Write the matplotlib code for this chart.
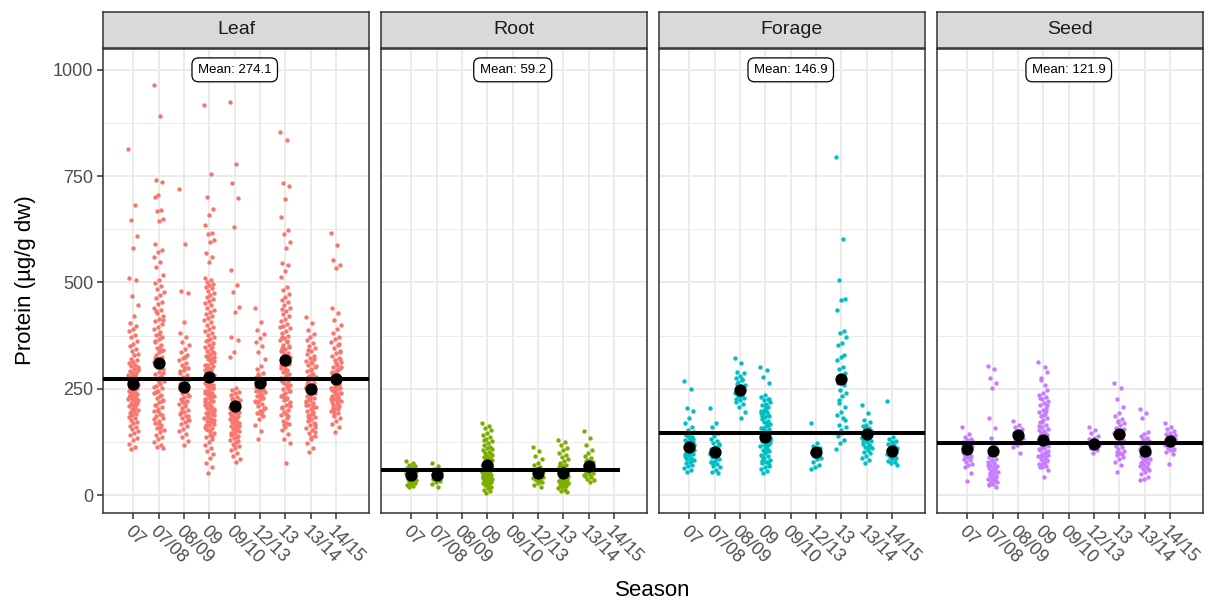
import matplotlib.pyplot as plt

plt.rcParams['font.family'] = ['Liberation Sans', 'DejaVu Sans']

seasons = ['07', '07/08', '08/09', '09', '09/10', '12/13', '13', '13/14', '14/15']

# ---- Leaf (ug/g dw) ----
leaf_07 = [815, 682, 647, 609, 581, 510, 505, 468, 446, 421, 404, 398, 391, 386, 377, 371, 363, 356,
           351, 344, 339, 332, 329, 321, 318, 313, 311, 305, 303, 297, 296, 291, 288, 287, 282, 281,
           276, 274, 272, 267, 266, 261, 259, 257, 252, 251, 247, 245, 243, 239, 238, 233, 232, 228,
           226, 223, 221, 217, 216, 212, 209, 207, 203, 201, 198, 194, 191, 188, 184, 181, 177, 172,
           169, 163, 161, 156, 151, 146, 142, 135, 129, 121, 113, 108, 301, 284, 269, 256, 241, 226,
           211, 196, 262, 246, 231, 214, 279, 294, 249, 236]
leaf_0708 = [964, 892, 740, 736, 706, 702, 671, 669, 649, 645, 591, 576, 571, 560, 547, 537, 518, 505,
             498, 492, 485, 478, 470, 463, 455, 449, 441, 436, 428, 421, 415, 409, 402, 396, 390, 384,
             377, 371, 366, 359, 353, 347, 342, 336, 330, 325, 318, 313, 307, 301, 296, 290, 285, 279,
             273, 268, 262, 257, 251, 246, 240, 235, 229, 224, 218, 213, 208, 202, 197, 191, 186, 181,
             175, 170, 164, 159, 153, 148, 142, 137, 131, 126, 119, 113, 110, 345, 322, 298, 276, 254,
             232, 211, 188, 167, 362, 338, 311, 287, 265, 243, 222, 199, 178, 157, 434, 412, 380, 305]
leaf_0809 = [720, 591, 480, 476, 408, 381, 372, 361, 352, 344, 337, 330, 323, 317, 311, 305, 299, 294,
             288, 283, 278, 273, 268, 263, 259, 254, 249, 245, 240, 236, 231, 227, 222, 218, 214, 209,
             205, 200, 196, 191, 187, 182, 177, 172, 167, 162, 156, 150, 143, 136, 128, 118, 291, 271,
             252, 233, 213, 195, 176, 302, 262, 243, 224, 185, 325]
leaf_09 = [918, 755, 702, 673, 659, 635, 616, 614, 600, 595, 570, 561, 549, 510, 505, 500, 497, 494,
           490, 486, 481, 476, 471, 466, 461, 456, 451, 446, 441, 436, 431, 426, 421, 416, 411, 406,
           401, 396, 391, 386, 381, 376, 372, 367, 362, 358, 353, 349, 344, 340, 336, 331, 327, 323,
           319, 315, 311, 307, 303, 299, 295, 291, 287, 283, 279, 275, 271, 267, 263, 259, 256, 252,
           248, 244, 240, 236, 233, 229, 225, 221, 217, 213, 210, 206, 202, 198, 194, 190, 186, 182,
           178, 174, 170, 166, 161, 157, 152, 147, 142, 137, 131, 125, 118, 111, 103, 96, 87, 76, 67,
           52, 334, 317, 298, 281, 262, 246, 231, 214, 197, 181, 165, 349, 328, 305, 286, 269, 251,
           237, 219, 201, 184, 168, 150, 289, 274, 255, 239, 222, 205, 188, 172, 156, 138, 364, 325,
           296, 276, 258, 242, 227, 208, 192, 176]
leaf_0910 = [925, 779, 734, 699, 631, 530, 494, 478, 442, 431, 373, 365, 337, 325, 252, 247, 243, 239,
             235, 231, 227, 223, 219, 216, 212, 209, 205, 202, 199, 195, 192, 189, 185, 182, 179, 176,
             172, 169, 166, 162, 159, 155, 151, 147, 143, 139, 135, 130, 126, 121, 116, 111, 106, 100,
             93, 86, 79, 225, 214, 203, 193, 183, 173, 163, 153, 141, 128, 118, 208, 196, 187, 170,
             157, 145, 137]
leaf_1213 = [440, 408, 388, 380, 370, 361, 350, 336, 321, 303, 296, 288, 281, 276, 271, 266, 262, 258,
             254, 250, 246, 242, 238, 234, 229, 225, 220, 215, 210, 205, 199, 193, 186, 178, 165, 150,
             132, 268, 256, 244, 232, 219, 206, 191, 278, 247, 236, 222, 198, 284]
leaf_13 = [854, 835, 734, 727, 697, 655, 624, 614, 596, 581, 546, 541, 528, 514, 490, 482, 474, 467,
           460, 453, 446, 440, 433, 427, 421, 415, 409, 403, 397, 392, 386, 381, 375, 370, 365, 359,
           354, 349, 344, 339, 334, 329, 324, 319, 314, 309, 304, 299, 294, 289, 284, 279, 274, 269,
           264, 259, 254, 249, 244, 239, 234, 229, 224, 218, 213, 207, 201, 195, 189, 182, 175, 168,
           160, 152, 143, 133, 122, 75, 372, 351, 328, 306, 286, 265, 246, 226, 205, 186, 164, 395,
           362, 337, 316, 292, 271, 252, 231, 210, 191, 345, 322, 297, 276, 258, 236, 215, 170, 438]
leaf_1314 = [420, 404, 388, 379, 371, 364, 357, 351, 345, 339, 333, 327, 322, 316, 311, 306, 301, 296,
             291, 286, 281, 277, 272, 268, 263, 259, 254, 250, 246, 241, 237, 233, 228, 224, 220, 215,
             211, 207, 202, 198, 193, 189, 184, 179, 174, 169, 164, 158, 152, 146, 139, 131, 122, 110,
             102, 304, 285, 266, 247, 231, 212, 195, 177, 160, 294, 275, 256, 238, 221, 204, 186, 168,
             314, 262, 243, 226, 208, 191, 342, 319, 279, 252, 217, 182, 149, 136]
leaf_1415 = [617, 587, 553, 541, 535, 440, 428, 412, 400, 390, 381, 373, 366, 359, 352, 346, 340, 334,
             328, 322, 317, 312, 307, 302, 297, 292, 288, 283, 279, 274, 270, 266, 261, 257, 253, 249,
             245, 241, 237, 233, 229, 225, 221, 217, 213, 209, 204, 199, 194, 188, 182, 175, 167, 160,
             149, 301, 285, 268, 251, 236, 219, 203, 186, 320, 294, 277, 260, 243, 227, 211, 196, 336,
             310, 289, 272, 255, 239, 223, 206, 355, 263, 247, 231]

# ---- Root ----
root_07 = [80, 76, 72, 69, 66, 63, 60, 58, 56, 54, 52, 50, 48, 47, 45, 44, 42, 41, 39, 38, 36, 35, 33,
           31, 29, 27, 25, 22, 20, 57, 49, 43, 37, 62, 53]
root_0708 = [75, 68, 62, 58, 54, 50, 47, 45, 42, 40, 37, 34, 30, 26, 19, 44, 52]
root_09 = [169, 163, 158, 152, 147, 142, 137, 132, 127, 122, 118, 114, 110, 106, 102, 99, 96, 93, 90,
           87, 84, 82, 79, 77, 74, 72, 70, 68, 66, 64, 62, 60, 58, 56, 54, 52, 50, 48, 46, 44, 42, 40,
           38, 36, 34, 32, 30, 28, 26, 23, 20, 17, 13, 9, 5, 95, 85, 75, 65, 55, 45, 35, 25, 108, 81,
           71, 61, 51, 41, 31, 89, 67, 47, 129, 57, 39]
root_1213 = [114, 104, 92, 84, 76, 70, 65, 61, 57, 53, 50, 47, 44, 41, 38, 35, 32, 28, 24, 20, 55, 43, 36]
root_13 = [129, 125, 118, 112, 106, 100, 94, 89, 84, 80, 76, 72, 68, 65, 62, 59, 56, 53, 50, 48, 46,
           44, 42, 40, 38, 36, 34, 32, 30, 28, 26, 24, 22, 19, 16, 13, 10, 7, 60, 52, 45, 37, 29, 21,
           70, 57, 41, 33, 25, 49]
root_1314 = [150, 134, 118, 106, 98, 92, 87, 82, 78, 74, 70, 67, 64, 61, 58, 55, 52, 49, 46, 43, 39,
             35, 31, 80, 66, 56, 47, 72]

# ---- Forage ----
forage_07 = [268, 250, 204, 199, 181, 169, 160, 153, 149, 145, 141, 137, 134, 130, 127, 124, 121, 118,
             115, 112, 109, 106, 103, 100, 97, 94, 91, 88, 85, 82, 79, 76, 72, 68, 64, 60, 55, 126,
             110, 96, 83, 138, 119, 101, 87, 132, 113]
forage_0708 = [205, 169, 160, 145, 139, 133, 127, 122, 117, 113, 109, 105, 101, 97, 93, 89, 85, 81, 77,
               73, 69, 65, 60, 55, 51, 111, 99, 87, 75, 120, 95, 79]
forage_0809 = [322, 310, 290, 287, 281, 275, 270, 265, 260, 256, 252, 248, 244, 240, 236, 232, 228, 224,
               220, 215, 208, 196, 181, 262, 246, 234, 226, 272]
forage_09 = [302, 295, 278, 263, 235, 231, 227, 223, 219, 215, 211, 207, 203, 199, 195, 191, 187, 183,
             179, 175, 171, 167, 163, 159, 155, 151, 147, 143, 139, 135, 131, 127, 123, 119, 115, 111,
             107, 103, 99, 95, 91, 87, 83, 79, 75, 71, 67, 62, 57, 51, 225, 205, 185, 165, 145, 125,
             105, 85, 69, 213, 193, 173, 153, 133, 113, 93, 77, 197, 157, 117, 141, 121, 101, 81, 189,
             149, 129, 109]
forage_1213 = [169, 122, 115, 110, 105, 100, 96, 92, 88, 84, 79, 72, 66, 61]
forage_13 = [796, 602, 506, 461, 458, 435, 386, 382, 372, 357, 352, 329, 325, 318, 302, 296, 287, 280,
             263, 258, 247, 240, 232, 216, 208, 196, 188, 181, 165, 160, 145, 140, 130, 122, 108, 270,
             224, 176, 152]
forage_1314 = [212, 192, 177, 171, 166, 162, 158, 155, 151, 148, 145, 142, 139, 136, 133, 130, 127, 124,
               121, 118, 114, 110, 106, 102, 98, 93, 88, 82, 75, 150, 140, 128, 116, 157, 135, 112]
forage_1415 = [222, 137, 132, 128, 124, 120, 117, 114, 111, 108, 105, 102, 99, 96, 93, 90, 87, 84, 81,
               78, 75, 72, 115, 101, 89, 126, 107, 94]

# ---- Seed ----
seed_07 = [161, 143, 137, 133, 129, 125, 122, 119, 116, 113, 110, 107, 104, 101, 98, 95, 92, 89, 86,
           82, 78, 74, 70, 66, 51, 33, 118, 106, 94, 127, 112, 100, 88]
seed_0708 = [304, 296, 275, 263, 252, 181, 158, 134, 122, 115, 90, 86, 82, 78, 75, 72, 69, 66, 63, 60,
             57, 54, 51, 48, 45, 42, 39, 36, 33, 30, 27, 24, 19, 80, 70, 61, 52, 43, 35, 26, 65, 47]
seed_0809 = [174, 165, 160, 155, 151, 147, 143, 139, 135, 131, 127, 123, 119, 113, 99, 145, 137, 129]
seed_09 = [314, 302, 275, 247, 241, 236, 231, 226, 221, 216, 211, 206, 201, 196, 191, 186, 181, 176,
           171, 166, 161, 156, 151, 146, 141, 136, 131, 126, 121, 116, 111, 106, 101, 97, 93, 89, 85,
           81, 77, 73, 69, 65, 59, 43, 139, 128, 118, 108, 99, 91, 83, 75, 67, 144, 124, 104, 87, 71,
           213, 188, 163, 133, 113, 95, 79, 228, 199, 173, 153, 258, 270, 289]
seed_1213 = [161, 153, 146, 140, 135, 130, 126, 122, 118, 114, 110, 106, 99, 132, 120, 112]
seed_13 = [263, 252, 226, 208, 192, 186, 180, 174, 169, 164, 159, 154, 149, 144, 139, 134, 129, 124,
           119, 114, 109, 104, 99, 94, 89, 84, 79, 71, 55, 156, 136, 116, 96, 171, 146, 121, 101, 141]
seed_1314 = [202, 192, 182, 149, 144, 139, 135, 131, 127, 123, 119, 115, 111, 108, 105, 102, 99, 96, 93,
             90, 87, 84, 81, 78, 75, 72, 69, 66, 62, 58, 54, 49, 43, 37, 35, 125, 113, 100, 88, 76, 64,
             117, 97, 82, 70]
seed_1415 = [170, 160, 155, 151, 147, 143, 139, 136, 133, 130, 127, 124, 121, 118, 115, 112, 109, 105,
             101, 97, 73, 141, 128, 119, 107, 134]

# group means (black dots) and overall means (line + label)
leaf_means = [262, 310, 255, 278, 209, 263, 318, 250, 272]
root_means = [47, 47, None, 72, None, 51, 51, 68, None]
forage_means = [114, 102, 247, 137, None, 101, 272, 143, 104]
seed_means = [108, 104, 141, 130, None, 120, 143, 103, 127]
overall_means = [274.1, 59.2, 146.9, 121.9]

panels = [
    ("Leaf", "#F8766D", [leaf_07, leaf_0708, leaf_0809, leaf_09, leaf_0910, leaf_1213, leaf_13,
                         leaf_1314, leaf_1415], leaf_means, None),
    ("Root", "#7CAE00", [root_07, root_0708, [], root_09, [], root_1213, root_13, root_1314, []],
     root_means, 9.24),
    ("Forage", "#00BFC4", [forage_07, forage_0708, forage_0809, forage_09, [], forage_1213, forage_13,
                           forage_1314, forage_1415], forage_means, None),
    ("Seed", "#C77CFF", [seed_07, seed_0708, seed_0809, seed_09, [], seed_1213, seed_13, seed_1314,
                         seed_1415], seed_means, None),
]

W, H = 1208, 601
fig = plt.figure(figsize=(W / 100, H / 100), dpi=100)
lefts = [103, 381, 659, 937]
pw = 266
top, bottom = 49, 513
xmin, xmax = -0.2, 10.3

for k, (name, color, groups, means, line_end) in enumerate(panels):
    ax = fig.add_axes([lefts[k] / W, (H - bottom) / H, pw / W, (bottom - top) / H])
    ax.set_xlim(xmin, xmax)
    ax.set_ylim(-42, 1049)

    # grid like theme_bw
    for v in [125, 375, 625, 875]:
        ax.axhline(v, color='#EBEBEB', lw=0.7, zorder=0)
    for v in [0, 250, 500, 750, 1000]:
        ax.axhline(v, color='#EBEBEB', lw=1.4, zorder=0)
    for i in range(len(seasons)):
        ax.axvline(i + 1, color='#EBEBEB', lw=1.4, zorder=0)

    # jittered points (fixed offsets, width 0.2)
    for i, vals in enumerate(groups):
        xs = [i + 1 + ((j * 0.6180339887) % 1.0 - 0.5) * 0.4 for j in range(len(vals))]
        ax.scatter(xs, vals, s=10, color=color, linewidths=0, zorder=2)

    # overall mean line
    if line_end is None:
        ax.axhline(overall_means[k], color='black', lw=2.9, zorder=3)
    else:
        ax.plot([xmin, line_end], [overall_means[k], overall_means[k]], color='black', lw=2.9,
                zorder=3, solid_capstyle='butt')

    # group means
    mx = [i + 1 for i, m in enumerate(means) if m is not None]
    my = [m for m in means if m is not None]
    ax.scatter(mx, my, s=78, color='black', linewidths=0, zorder=4)

    ax.text(5, 1000, "Mean: %.1f" % overall_means[k], ha='center', va='center', fontsize=9.5,
            color='black', zorder=5,
            bbox=dict(boxstyle='round,pad=0.45,rounding_size=0.5', fc='white', ec='black', lw=0.9))

    ax.set_xticks(range(1, len(seasons) + 1))
    ax.set_xticklabels(seasons, rotation=-45, ha='left', va='top', rotation_mode='anchor',
                       fontsize=13, color='#4D4D4D')
    ax.tick_params(axis='x', length=4, width=1.1, color='#333333', pad=3)
    if k == 0:
        ax.set_yticks([0, 250, 500, 750, 1000])
        ax.set_yticklabels(['0', '250', '500', '750', '1000'], fontsize=13, color='#4D4D4D')
        ax.tick_params(axis='y', length=4, width=1.1, color='#333333', pad=3)
    else:
        ax.set_yticks([])
    for sp in ax.spines.values():
        sp.set_color('#333333')
        sp.set_linewidth(1.1)

    # facet strip
    sax = fig.add_axes([lefts[k] / W, (H - 48) / H, pw / W, 36 / H])
    sax.set_facecolor('#D9D9D9')
    sax.set_xticks([])
    sax.set_yticks([])
    for sp in sax.spines.values():
        sp.set_color('#333333')
        sp.set_linewidth(1.1)
    sax.text(0.5, 0.5, name, ha='center', va='center', fontsize=14, color='#1A1A1A',
             transform=sax.transAxes)

fig.text(653 / W, 1 - 590 / H, "Season", ha='center', va='center', fontsize=16)
fig.text(25 / W, 1 - 280 / H, "Protein (µg/g dw)", ha='center', va='center', rotation=90, fontsize=16)

fig.savefig("out.png", dpi=100)
